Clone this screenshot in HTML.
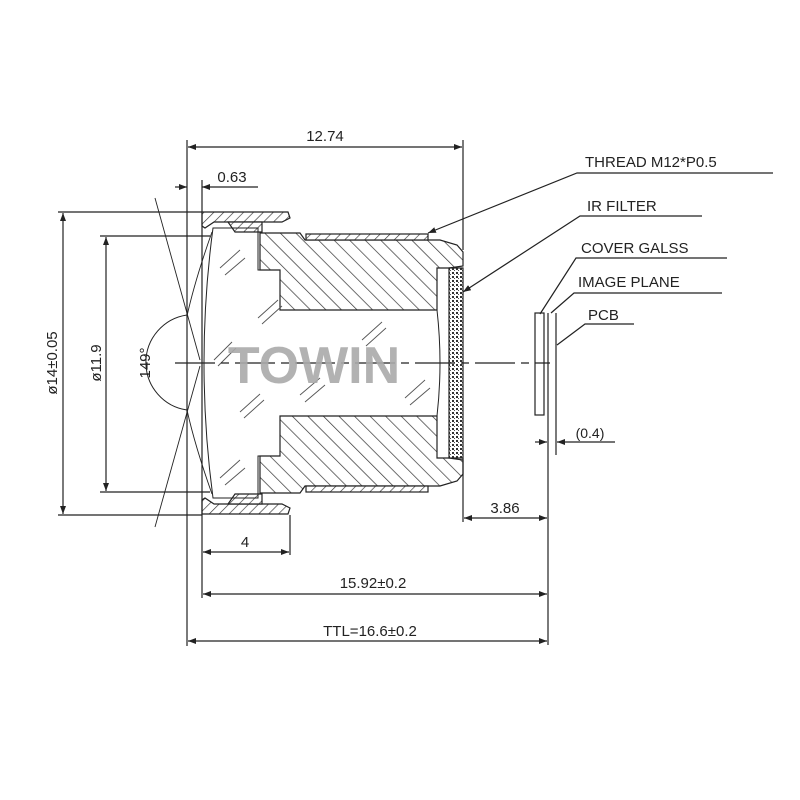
<!DOCTYPE html>
<html><head><meta charset="utf-8"><style>
html,body{margin:0;padding:0;background:#fff;width:800px;height:800px;overflow:hidden}
text{font-family:"Liberation Sans",sans-serif;fill:#222}
</style></head><body>
<svg width="800" height="800" viewBox="0 0 800 800" xmlns="http://www.w3.org/2000/svg">
<defs>
<pattern id="h" patternUnits="userSpaceOnUse" width="11" height="11" patternTransform="rotate(-45)">
<rect width="11" height="11" fill="#fff"/><line x1="0" y1="0" x2="0" y2="11" stroke="#333" stroke-width="1.4"/>
</pattern>
<pattern id="h2" patternUnits="userSpaceOnUse" width="7" height="7" patternTransform="rotate(45)">
<rect width="7" height="7" fill="#fff"/><line x1="0" y1="0" x2="0" y2="7" stroke="#333" stroke-width="1.3"/>
</pattern>
<pattern id="d" patternUnits="userSpaceOnUse" width="4" height="4">
<rect width="4" height="4" fill="#fff"/><rect x="0" y="0" width="2" height="2" fill="#333"/><rect x="2" y="2" width="1" height="1" fill="#555"/>
</pattern>
<marker id="a" markerWidth="8" markerHeight="6" refX="8" refY="3" orient="auto" markerUnits="userSpaceOnUse"><path d="M0,0 L8,3 L0,6 z" fill="#222"/></marker>
</defs>
<g stroke="#222" stroke-width="1.2" fill="none">
<path d="M260,233 L300,233 L305,240 L440,240 L457,245 L463,252 L463,266 L449,268 L437,268 L437,310 L280,310 L280,270 L260,270 Z" fill="url(#h)"/>
<path d="M260,493 L300,493 L305,486 L440,486 L457,481 L463,474 L463,460 L449,458 L437,458 L437,416 L280,416 L280,456 L260,456 Z" fill="url(#h)"/>
<rect x="306" y="234" width="122" height="6" fill="url(#h2)"/>
<rect x="306" y="486" width="122" height="6" fill="url(#h2)"/>
<path d="M202,212 L288,212 L290,218 L282,222 L214,222 L205,228 L202,226 Z" fill="url(#h2)"/>
<path d="M202,514 L288,514 L290,508 L282,504 L214,504 L205,498 L202,500 Z" fill="url(#h2)"/>
<path d="M228,222 L262,222 L262,232 L235,232 Z" fill="url(#h2)"/>
<path d="M228,504 L262,504 L262,494 L235,494 Z" fill="url(#h2)"/>
<path d="M213,228 L258,228 L258,270 L280,270 L280,310 L437,310 Q443,363 437,416 L280,416 L280,456 L258,456 L258,498 L213,498 Q195,363 213,228 Z" stroke-width="1"/>
<rect x="449" y="268" width="14" height="190" fill="url(#d)"/>
<g stroke="#555" stroke-width="0.9">
<path d="M220,268 L240,250 M225,275 L245,258 M258,318 L278,300 M262,324 L282,306 M214,360 L232,342 M218,366 L236,348 M240,412 L260,394 M244,418 L264,400 M300,395 L320,378 M305,402 L325,385 M362,340 L382,322 M366,346 L386,328 M405,398 L425,380 M410,405 L430,388 M220,478 L240,460 M225,485 L245,468"/>
</g>
<rect x="535" y="313" width="9" height="102"/>
<line x1="548" y1="313" x2="548" y2="645"/>
<line x1="556" y1="313" x2="556" y2="455"/>
<line x1="175" y1="363" x2="550" y2="363" stroke-dasharray="40,6,8,6"/>
<line x1="187" y1="140" x2="187" y2="646"/>
<line x1="202" y1="180" x2="202" y2="598"/>
<line x1="463" y1="140" x2="463" y2="250"/>
<line x1="463" y1="458" x2="463" y2="522"/>
<line x1="290" y1="515" x2="290" y2="555"/>
<line x1="58" y1="212" x2="202" y2="212"/>
<line x1="58" y1="515" x2="202" y2="515"/>
<line x1="100" y1="236" x2="210" y2="236"/>
<line x1="100" y1="492" x2="210" y2="492"/>
<line x1="155" y1="198" x2="200" y2="360" stroke-width="0.9"/>
<line x1="155" y1="527" x2="200" y2="366" stroke-width="0.9"/>
<path d="M187,316 Q195,280 212,232 M187,410 Q195,446 212,494" stroke-width="0.9"/>
<path d="M187,315 A48,48 0 0 0 187,410" stroke-width="1"/>
<line x1="325" y1="147" x2="188" y2="147" marker-end="url(#a)"/>
<line x1="325" y1="147" x2="462" y2="147" marker-end="url(#a)"/>
<line x1="175" y1="187" x2="187" y2="187" marker-end="url(#a)"/>
<line x1="258" y1="187" x2="202" y2="187" marker-end="url(#a)"/>
<line x1="63" y1="300" x2="63" y2="213" marker-end="url(#a)"/>
<line x1="63" y1="300" x2="63" y2="514" marker-end="url(#a)"/>
<line x1="106" y1="300" x2="106" y2="237" marker-end="url(#a)"/>
<line x1="106" y1="300" x2="106" y2="491" marker-end="url(#a)"/>
<line x1="245" y1="552" x2="203" y2="552" marker-end="url(#a)"/>
<line x1="245" y1="552" x2="289" y2="552" marker-end="url(#a)"/>
<line x1="370" y1="594" x2="203" y2="594" marker-end="url(#a)"/>
<line x1="370" y1="594" x2="547" y2="594" marker-end="url(#a)"/>
<line x1="370" y1="641" x2="188" y2="641" marker-end="url(#a)"/>
<line x1="370" y1="641" x2="547" y2="641" marker-end="url(#a)"/>
<line x1="505" y1="518" x2="464" y2="518" marker-end="url(#a)"/>
<line x1="505" y1="518" x2="547" y2="518" marker-end="url(#a)"/>
<line x1="535" y1="442" x2="547" y2="442" marker-end="url(#a)"/>
<line x1="615" y1="442" x2="557" y2="442" marker-end="url(#a)"/>
<polyline points="773,173 577,173 428,233" marker-end="url(#a)"/>
<polyline points="702,216 580,216 463,292" marker-end="url(#a)"/>
<polyline points="727,258 576,258 540,314"/>
<polyline points="722,293 574,293 551,313"/>
<polyline points="634,324 585,324 557,345"/>
</g>
<g font-size="15">
<text x="325" y="141" text-anchor="middle">12.74</text>
<text x="232" y="182" text-anchor="middle">0.63</text>
<text x="245" y="547" text-anchor="middle">4</text>
<text x="505" y="513" text-anchor="middle">3.86</text>
<text x="373" y="588" text-anchor="middle">15.92±0.2</text>
<text x="370" y="636" text-anchor="middle">TTL=16.6±0.2</text>
<text x="590" y="438" font-size="14" text-anchor="middle">(0.4)</text>
<text x="585" y="167">THREAD M12*P0.5</text>
<text x="587" y="211">IR FILTER</text>
<text x="581" y="253">COVER GALSS</text>
<text x="578" y="287">IMAGE PLANE</text>
<text x="588" y="320">PCB</text>
<text transform="translate(57,363) rotate(-90)" text-anchor="middle">ø14±0.05</text>
<text transform="translate(101,363) rotate(-90)" text-anchor="middle">ø11.9</text>
<text transform="translate(150,363) rotate(-90)" text-anchor="middle">149°</text>
</g>
<text x="314" y="383" font-size="52" font-weight="bold" text-anchor="middle" style="fill:#aaa;fill-opacity:0.9">TOWIN</text>
</svg>
</body></html>
